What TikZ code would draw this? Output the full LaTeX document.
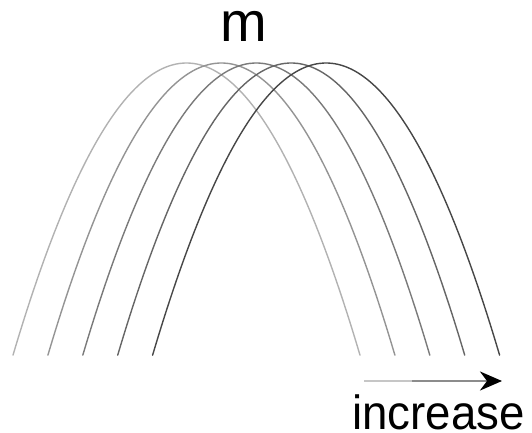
\documentclass[tikz,border=0pt]{standalone}
\usepackage{fontspec}
\setmainfont{Liberation Sans}
\usetikzlibrary{arrows.meta}
\definecolor{cA}{gray}{0.70}
\definecolor{cB}{gray}{0.58}
\definecolor{cC}{gray}{0.48}
\definecolor{cD}{gray}{0.40}
\definecolor{cE}{gray}{0.28}
\tikzset{
  curve/.style={line width=1.4pt, line cap=round},
  lbl/.style={inner sep=0pt, text=black},
}
\begin{document}
\begin{tikzpicture}[x=1pt,y=-1pt]
\useasboundingbox (0,0) rectangle (532,433);
\foreach \i/\col in {0/cA,1/cB,2/cC,3/cD,4/cE}{
  \pgfmathsetmacro{\c}{186.5+34.9*\i}
  \draw[curve,\col] plot[domain={\c-173.5}:{\c+173.5}, samples=80, smooth] (\x,{63+0.0097*(\x-\c)*(\x-\c)});
}
\node[lbl, anchor=base, font=\fontsize{56}{56}\selectfont] (m) at (244,42) {m};
\coordinate (a0) at (364,381);
\coordinate (a1) at (412,381);
\coordinate (a2) at (502,381);
\draw[line width=2.6pt, gray!45] (a0) -- (a1);
\draw[line width=2.6pt, gray!110!black, -{Stealth[black, length=22pt, width=19pt, inset=7pt]}] (a1) -- (a2);
\node[lbl, anchor=base west, xscale=0.95, font=\fontsize{48}{48}\selectfont] (inc) at (352,429) {increase};
\end{tikzpicture}
\end{document}
